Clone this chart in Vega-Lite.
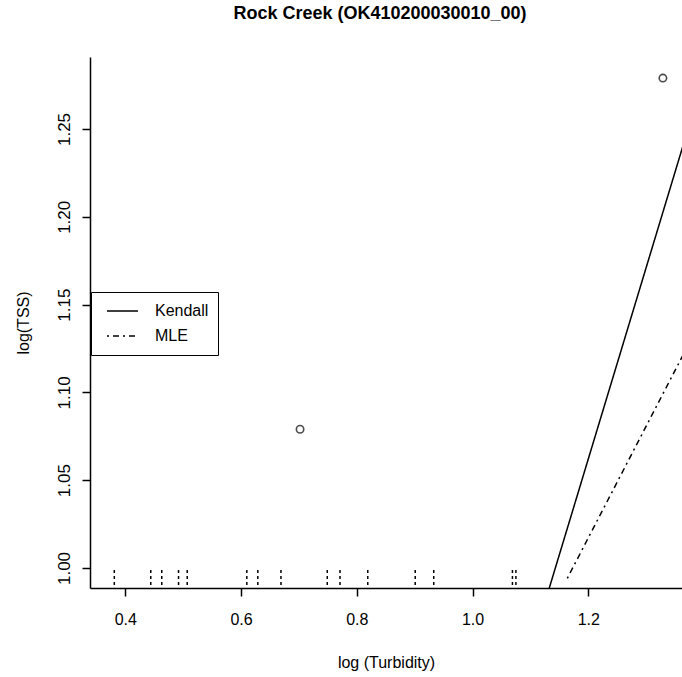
{
  "$schema": "https://vega.github.io/schema/vega-lite/v6.json",
  "autosize": "none",
  "width": 592,
  "height": 531,
  "padding": {"left": 90, "top": 57, "right": 0, "bottom": 89},
  "background": "white",
  "title": {"text": "Rock Creek (OK410200030010_00)", "fontSize": 18, "fontWeight": "bold", "font": "Liberation Sans", "color": "black", "offset": 34, "anchor": "middle", "dx": -6},
  "config": {
    "font": "Liberation Sans",
    "view": {"stroke": null},
    "axis": {"grid": false, "domainColor": "black", "tickColor": "black", "domainWidth": 1.5, "tickWidth": 1.5, "tickSize": 8, "labelColor": "black", "titleColor": "black", "titleFontWeight": "normal", "labelFont": "Liberation Sans", "titleFont": "Liberation Sans"}
  },
  "datasets": {
    "points": [{"turbidity": 0.702, "tss": 1.079}, {"turbidity": 1.329, "tss": 1.279}],
    "censored": [{"turbidity": 0.381}, {"turbidity": 0.444}, {"turbidity": 0.463}, {"turbidity": 0.492}, {"turbidity": 0.507}, {"turbidity": 0.610}, {"turbidity": 0.629}, {"turbidity": 0.669}, {"turbidity": 0.749}, {"turbidity": 0.771}, {"turbidity": 0.819}, {"turbidity": 0.901}, {"turbidity": 0.933}, {"turbidity": 1.069}, {"turbidity": 1.075}],
    "fits": [
      {"method": "Kendall", "turbidity": 1.12, "tss": 0.9748},
      {"method": "Kendall", "turbidity": 1.40, "tss": 1.2800},
      {"method": "MLE", "turbidity": 1.1638, "tss": 0.9941},
      {"method": "MLE", "turbidity": 1.40, "tss": 1.1443}
    ]
  },
  "layer": [
    {
      "data": {"name": "censored"},
      "mark": {"type": "rule", "color": "black", "strokeWidth": 1.5, "strokeDash": [3, 3]},
      "encoding": {
        "x": {"field": "turbidity", "type": "quantitative",
          "scale": {"domain": [0.339, 1.362], "nice": false, "zero": false},
          "axis": {"values": [0.4, 0.6, 0.8, 1.0, 1.2], "format": ".1f", "labelFontSize": 16, "labelPadding": 15, "title": "log (Turbidity)", "titleFontSize": 16, "titlePadding": 27}},
        "y": {"datum": 0.9903, "type": "quantitative",
          "scale": {"domain": [0.9886, 1.291], "nice": false, "zero": false},
          "axis": {"values": [1.0, 1.05, 1.1, 1.15, 1.2, 1.25], "format": ".2f", "labelFontSize": 17, "labelAngle": -90, "labelAlign": "center", "labelBaseline": "bottom", "labelPadding": 9, "title": "log(TSS)", "titleFontSize": 16, "titlePadding": 24}},
        "y2": {"datum": 0.9995}
      }
    },
    {
      "mark": {"type": "rule", "color": "black", "strokeWidth": 1.5},
      "encoding": {"y": {"datum": 1.291, "type": "quantitative"}}
    },
    {
      "data": {"name": "points"},
      "mark": {"type": "point", "shape": "circle", "filled": false, "color": "black", "strokeWidth": 1.6, "size": 55},
      "encoding": {
        "x": {"field": "turbidity", "type": "quantitative"},
        "y": {"field": "tss", "type": "quantitative"}
      }
    },
    {
      "data": {"name": "fits"},
      "mark": {"type": "line", "color": "black", "strokeWidth": 1.5, "clip": true},
      "encoding": {
        "x": {"field": "turbidity", "type": "quantitative"},
        "y": {"field": "tss", "type": "quantitative"},
        "strokeDash": {"field": "method", "type": "nominal",
          "scale": {"domain": ["Kendall", "MLE"], "range": [[1, 0], [2, 4, 6, 4]]},
          "legend": {"title": null, "orient": "none", "legendX": 1, "legendY": 235, "strokeColor": "black", "fillColor": "white", "padding": 9, "symbolType": "stroke", "symbolSize": 961, "clipHeight": 20, "rowPadding": 5, "labelOffset": 16, "labelFontSize": 16, "labelColor": "black", "symbolStrokeColor": "black", "symbolStrokeWidth": 1.5, "symbolOffset": 6, "cornerRadius": 0}}
      }
    }
  ]
}
